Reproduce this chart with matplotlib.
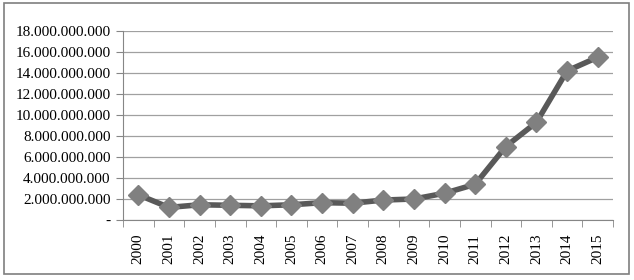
import matplotlib
matplotlib.use("Agg")
import matplotlib.pyplot as plt
from matplotlib.patches import Rectangle
from matplotlib.ticker import FuncFormatter, FixedLocator

years = [str(y) for y in range(2000, 2016)]
values = [2.4e9, 1.2e9, 1.45e9, 1.4e9, 1.35e9, 1.45e9, 1.65e9, 1.6e9,
          1.9e9, 2.0e9, 2.55e9, 3.4e9, 7.0e9, 9.3e9, 14.2e9, 15.5e9]

plt.rcParams['font.family'] = ['Liberation Serif', 'DejaVu Serif']

fig = plt.figure(figsize=(6.34, 2.8), dpi=100)
ax = fig.add_axes([123 / 634, 1 - 220 / 280, 490 / 634, 189 / 280])

x = list(range(len(years)))
ax.plot(x, values, color='#595959', lw=4, marker='D', markersize=10.5,
        markerfacecolor='#808080', markeredgecolor='#808080', zorder=3)

ax.set_xlim(-0.5, len(years) - 0.5)
ax.set_ylim(0, 18e9)
ax.set_yticks(range(0, 18000000001, 2000000000))

def fmt(v, pos):
    if v == 0:
        return '-'
    return f'{int(v):,}'.replace(',', '.')

ax.yaxis.set_major_formatter(FuncFormatter(fmt))
ax.set_xticks(x)
ax.set_xticklabels(years, rotation=90)
ax.xaxis.set_minor_locator(FixedLocator([i - 0.5 for i in range(len(years) + 1)]))
ax.tick_params(axis='x', which='major', length=0, pad=10, labelsize=11)
ax.tick_params(axis='x', which='minor', length=5, color='#868686', direction='out')
ax.tick_params(axis='y', length=5, color='#868686', labelsize=11, pad=4)

ax.grid(axis='y', color='#a0a0a0', lw=0.9)
ax.set_axisbelow(True)
for s in ['top', 'right']:
    ax.spines[s].set_visible(False)
for s in ['left', 'bottom']:
    ax.spines[s].set_color('#868686')

fig.patches.append(Rectangle((4 / 634, 6 / 280), 625 / 634, 271 / 280,
                             transform=fig.transFigure, fill=False,
                             edgecolor='#7f7f7f', lw=1.2))

fig.savefig('out.png', dpi=100)
